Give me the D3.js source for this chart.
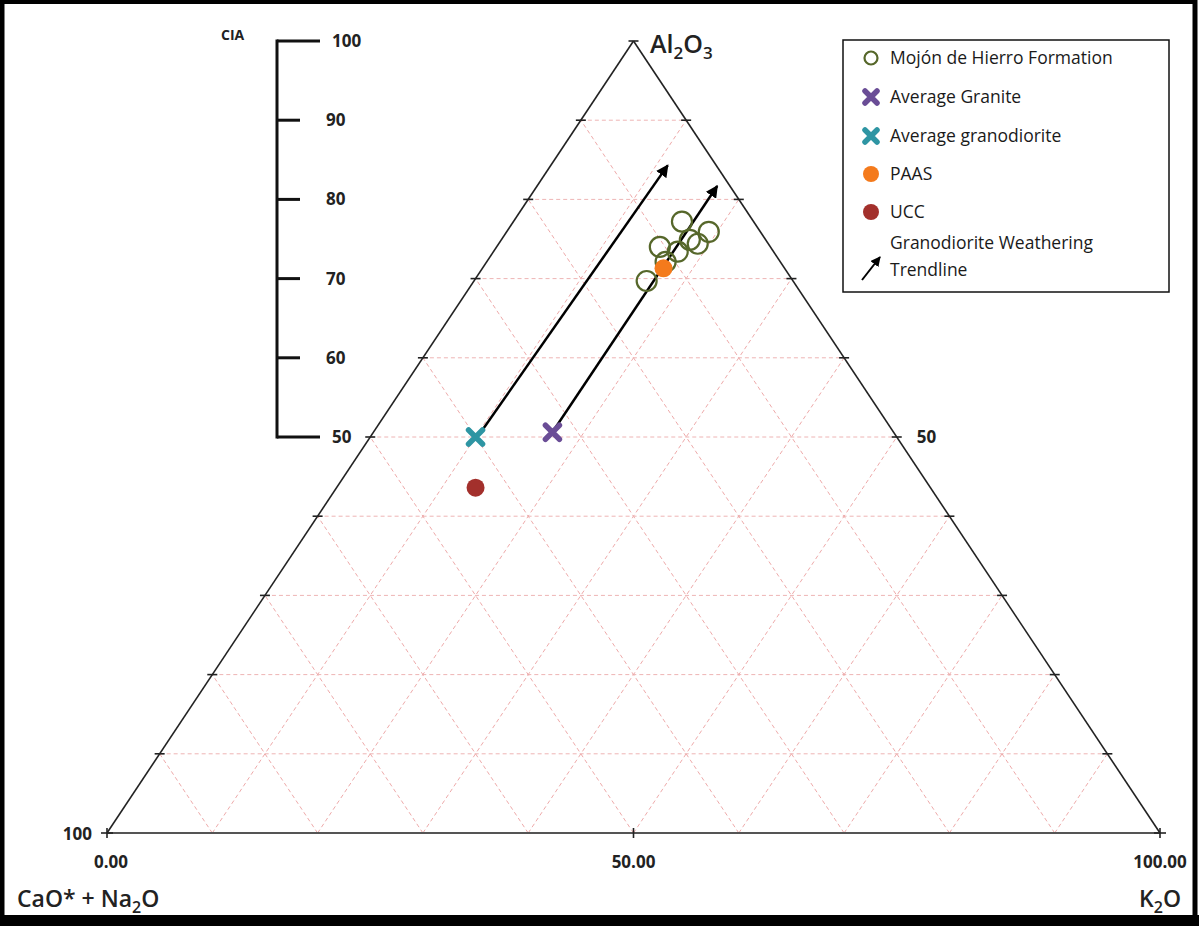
<!DOCTYPE html>
<html lang="en">
<head>
<meta charset="UTF-8">
<title>CIA ternary diagram</title>
<script src="https://d3js.org/d3.v7.min.js"></script>
<style>
  body { margin: 0; background: #fff; }
  svg { display: block; font-family: "Open Sans", Arial, sans-serif; }
  .tick-label { font-size: 17px; font-weight: 700; fill: #222; }
  .legend-text { font-size: 17.5px; fill: #1a1a1a; }
  .apex { font-weight: 600; fill: #222; }
</style>
</head>
<body>
<svg id="chart" width="1199" height="926"></svg>
<script>
// ternary components: Al2O3 (top), K2O (bottom right), rest = CaO* + Na2O
const gridSteps = [10, 20, 30, 40, 50, 60, 70, 80, 90];
const ciaTicks = [100, 90, 80, 70, 60, 50];
const bottomLabels = [[0, "0.00"], [50, "50.00"], [100, "100.00"]];

// Mojón de Hierro Formation samples
const mojonAl = [77.2, 75.9, 74.0, 69.7, 74.9, 73.4, 72.1, 74.4];
const mojonK  = [16.0, 19.2, 15.5, 16.4, 17.9, 17.5, 17.0, 18.9];

// reference compositions
const graniteAl = 50.6, graniteK = 17.0;
const granodioriteAl = 50.0, granodioriteK = 10.0;
const paasAl = 71.3, paasK = 17.2;
const uccAl = 43.6, uccK = 13.2;

// weathering trendlines
const trendStartAl = [50.6, 51.2];
const trendStartK  = [10.2, 17.0];
const trendEndAl   = [84.3, 81.7];
const trendEndK    = [11.1, 17.1];

const svg = d3.select("#chart");
const W = 1199, H = 926;

const plotLeft = 107, plotRight = 1160, plotBottom = 833, plotTop = 41;
// y by Al2O3, x by K2O + Al2O3/2 along the base
const y = d3.scaleLinear().domain([0, 100]).range([plotBottom, plotTop]);
const xb = d3.scaleLinear().domain([0, 100]).range([plotLeft, plotRight]);
const px = (al, k) => xb(k + al / 2);
const py = al => y(al);

// frame
svg.append("rect").attr("x", 2).attr("y", 1.5).attr("width", W - 6).attr("height", H - 8)
  .attr("fill", "none").attr("stroke", "#000").attr("stroke-width", 5);
svg.append("rect").attr("x", 0).attr("y", 915).attr("width", W).attr("height", 11).attr("fill", "#000");

const grid = svg.append("g").attr("fill", "none").attr("stroke", "#eeaaaa")
  .attr("stroke-width", 1).attr("stroke-dasharray", "4,3");
gridSteps.forEach(v => {
  // constant Al2O3
  grid.append("line").attr("x1", px(v, 0)).attr("y1", py(v)).attr("x2", px(v, 100 - v)).attr("y2", py(v))
    .attr("stroke", "#eeb4b4");
  // constant K2O
  grid.append("line").attr("x1", px(0, v)).attr("y1", py(0)).attr("x2", px(100 - v, v)).attr("y2", py(100 - v));
  // constant CaO*+Na2O
  grid.append("line").attr("x1", px(0, 100 - v)).attr("y1", py(0)).attr("x2", px(100 - v, 0)).attr("y2", py(100 - v));
});

// triangle
const tri = svg.append("g").attr("stroke", "#222").attr("stroke-width", 1.6).attr("fill", "none");
tri.append("line").attr("x1", px(0, 0)).attr("y1", py(0)).attr("x2", px(100, 0)).attr("y2", py(100));
tri.append("line").attr("x1", px(100, 0)).attr("y1", py(100)).attr("x2", px(0, 100)).attr("y2", py(0));
tri.append("line").attr("x1", px(0, 0)).attr("y1", py(0)).attr("x2", px(0, 100)).attr("y2", py(0))
  .attr("stroke", "#555").attr("stroke-width", 2);

// edge ticks
gridSteps.forEach(v => {
  tri.append("line").attr("x1", px(v, 0) - 5).attr("x2", px(v, 0) + 5).attr("y1", py(v)).attr("y2", py(v));
  tri.append("line").attr("x1", px(v, 100 - v) - 5).attr("x2", px(v, 100 - v) + 5).attr("y1", py(v)).attr("y2", py(v));
});
[0, 50, 100].forEach(v => {
  tri.append("line").attr("x1", xb(v)).attr("x2", xb(v)).attr("y1", plotBottom - 5).attr("y2", plotBottom + 5);
});
[[0, 0], [0, 100]].forEach(([al, k]) => {
  tri.append("line").attr("x1", px(al, k) - 6).attr("x2", px(al, k) + 6).attr("y1", py(al)).attr("y2", py(al));
});
tri.append("line").attr("x1", px(100, 0) - 5).attr("x2", px(100, 0) + 5).attr("y1", py(100)).attr("y2", py(100));

// bottom labels
bottomLabels.forEach(([v, t]) => {
  svg.append("text").attr("class", "tick-label").attr("x", xb(v) + (v === 0 ? 4 : 0)).attr("y", 868)
    .attr("text-anchor", "middle").text(t);
});
svg.append("text").attr("class", "tick-label").attr("x", 92).attr("y", 840).attr("text-anchor", "end").text("100");
svg.append("text").attr("class", "tick-label").attr("x", px(50, 50) + 20).attr("y", py(50) + 6).text("50");

// apex labels
const al = svg.append("text").attr("class", "apex").attr("x", 650).attr("y", 53).style("font-size", "25px");
al.append("tspan").text("Al");
al.append("tspan").attr("dy", 6).style("font-size", "17px").text("2");
al.append("tspan").attr("dy", -6).text("O");
al.append("tspan").attr("dy", 6).style("font-size", "17px").text("3");

const cn = svg.append("text").attr("class", "apex").attr("x", 17).attr("y", 907).style("font-size", "23px");
cn.append("tspan").text("CaO* + Na");
cn.append("tspan").attr("dy", 6).style("font-size", "16px").text("2");
cn.append("tspan").attr("dy", -6).text("O");

const ko = svg.append("text").attr("class", "apex").attr("x", 1181).attr("y", 907)
  .attr("text-anchor", "end").style("font-size", "23px");
ko.append("tspan").text("K");
ko.append("tspan").attr("dy", 6).style("font-size", "16px").text("2");
ko.append("tspan").attr("dy", -6).text("O");

// CIA scale
const ciaX = 277;
const cia = svg.append("g").attr("stroke", "#111").attr("stroke-width", 3);
cia.append("line").attr("x1", ciaX).attr("x2", ciaX).attr("y1", y(100) - 1.5).attr("y2", y(50) + 1.5);
ciaTicks.forEach(v => {
  const long = v === 100 || v === 50;
  cia.append("line").attr("x1", ciaX).attr("x2", ciaX + (long ? 43 : 23)).attr("y1", y(v)).attr("y2", y(v));
  svg.append("text").attr("class", "tick-label").attr("x", long ? 332 : 326).attr("y", y(v) + 6).text(v);
});
svg.append("text").attr("class", "tick-label").attr("x", 221).attr("y", 40).style("font-size", "14px").text("CIA");

// arrows
const defs = svg.append("defs");
defs.append("marker").attr("id", "arrow").attr("viewBox", "0 0 10 10").attr("refX", 9).attr("refY", 5)
  .attr("markerWidth", 5).attr("markerHeight", 5).attr("orient", "auto")
  .append("path").attr("d", "M0,0 L10,5 L0,10 z").attr("fill", "#000");
trendStartAl.forEach((s, i) => {
  svg.append("line")
    .attr("x1", px(s, trendStartK[i])).attr("y1", py(s))
    .attr("x2", px(trendEndAl[i], trendEndK[i])).attr("y2", py(trendEndAl[i]))
    .attr("stroke", "#000").attr("stroke-width", 2.5).attr("marker-end", "url(#arrow)");
});

// markers
const olive = "#56672a", purple = "#6a4d96", teal = "#2e95a3", orange = "#f47a1c", red = "#a3302c";
const cross = (g, cx, cy, color, s) => {
  g.append("path").attr("d", `M${cx - s},${cy - s}L${cx + s},${cy + s}M${cx - s},${cy + s}L${cx + s},${cy - s}`)
    .attr("stroke", color).attr("stroke-width", 5.5).attr("stroke-linecap", "round");
};
const pts = svg.append("g");
mojonAl.forEach((a, i) => {
  pts.append("circle").attr("cx", px(a, mojonK[i])).attr("cy", py(a)).attr("r", 10)
    .attr("fill", "none").attr("stroke", olive).attr("stroke-width", 2.2);
});
cross(pts, px(graniteAl, graniteK), py(graniteAl), purple, 7);
cross(pts, px(granodioriteAl, granodioriteK), py(granodioriteAl), teal, 7);
pts.append("circle").attr("cx", px(paasAl, paasK)).attr("cy", py(paasAl)).attr("r", 9).attr("fill", orange);
pts.append("circle").attr("cx", px(uccAl, uccK)).attr("cy", py(uccAl)).attr("r", 9).attr("fill", red);

// legend
const lg = svg.append("g");
lg.append("rect").attr("x", 843).attr("y", 40).attr("width", 326).attr("height", 252)
  .attr("fill", "#fff").attr("stroke", "#111").attr("stroke-width", 1.5);
const legendItems = ["Mojón de Hierro Formation", "Average Granite", "Average granodiorite", "PAAS", "UCC"];
const legendY = [58, 97, 136, 174, 212];
legendItems.forEach((t, i) => {
  lg.append("text").attr("class", "legend-text").attr("x", 890).attr("y", legendY[i] + 6).text(t);
});
lg.append("circle").attr("cx", 871).attr("cy", legendY[0]).attr("r", 6.5).attr("fill", "none")
  .attr("stroke", olive).attr("stroke-width", 2.2);
cross(lg, 871, legendY[1], purple, 6);
cross(lg, 871, legendY[2], teal, 6);
lg.append("circle").attr("cx", 871).attr("cy", legendY[3]).attr("r", 8).attr("fill", orange);
lg.append("circle").attr("cx", 871).attr("cy", legendY[4]).attr("r", 8).attr("fill", red);
lg.append("line").attr("x1", 862).attr("y1", 280).attr("x2", 880).attr("y2", 257)
  .attr("stroke", "#000").attr("stroke-width", 2).attr("marker-end", "url(#arrow)");
lg.append("text").attr("class", "legend-text").attr("x", 890).attr("y", 249).text("Granodiorite Weathering");
lg.append("text").attr("class", "legend-text").attr("x", 890).attr("y", 276).text("Trendline");
</script>
</body>
</html>
